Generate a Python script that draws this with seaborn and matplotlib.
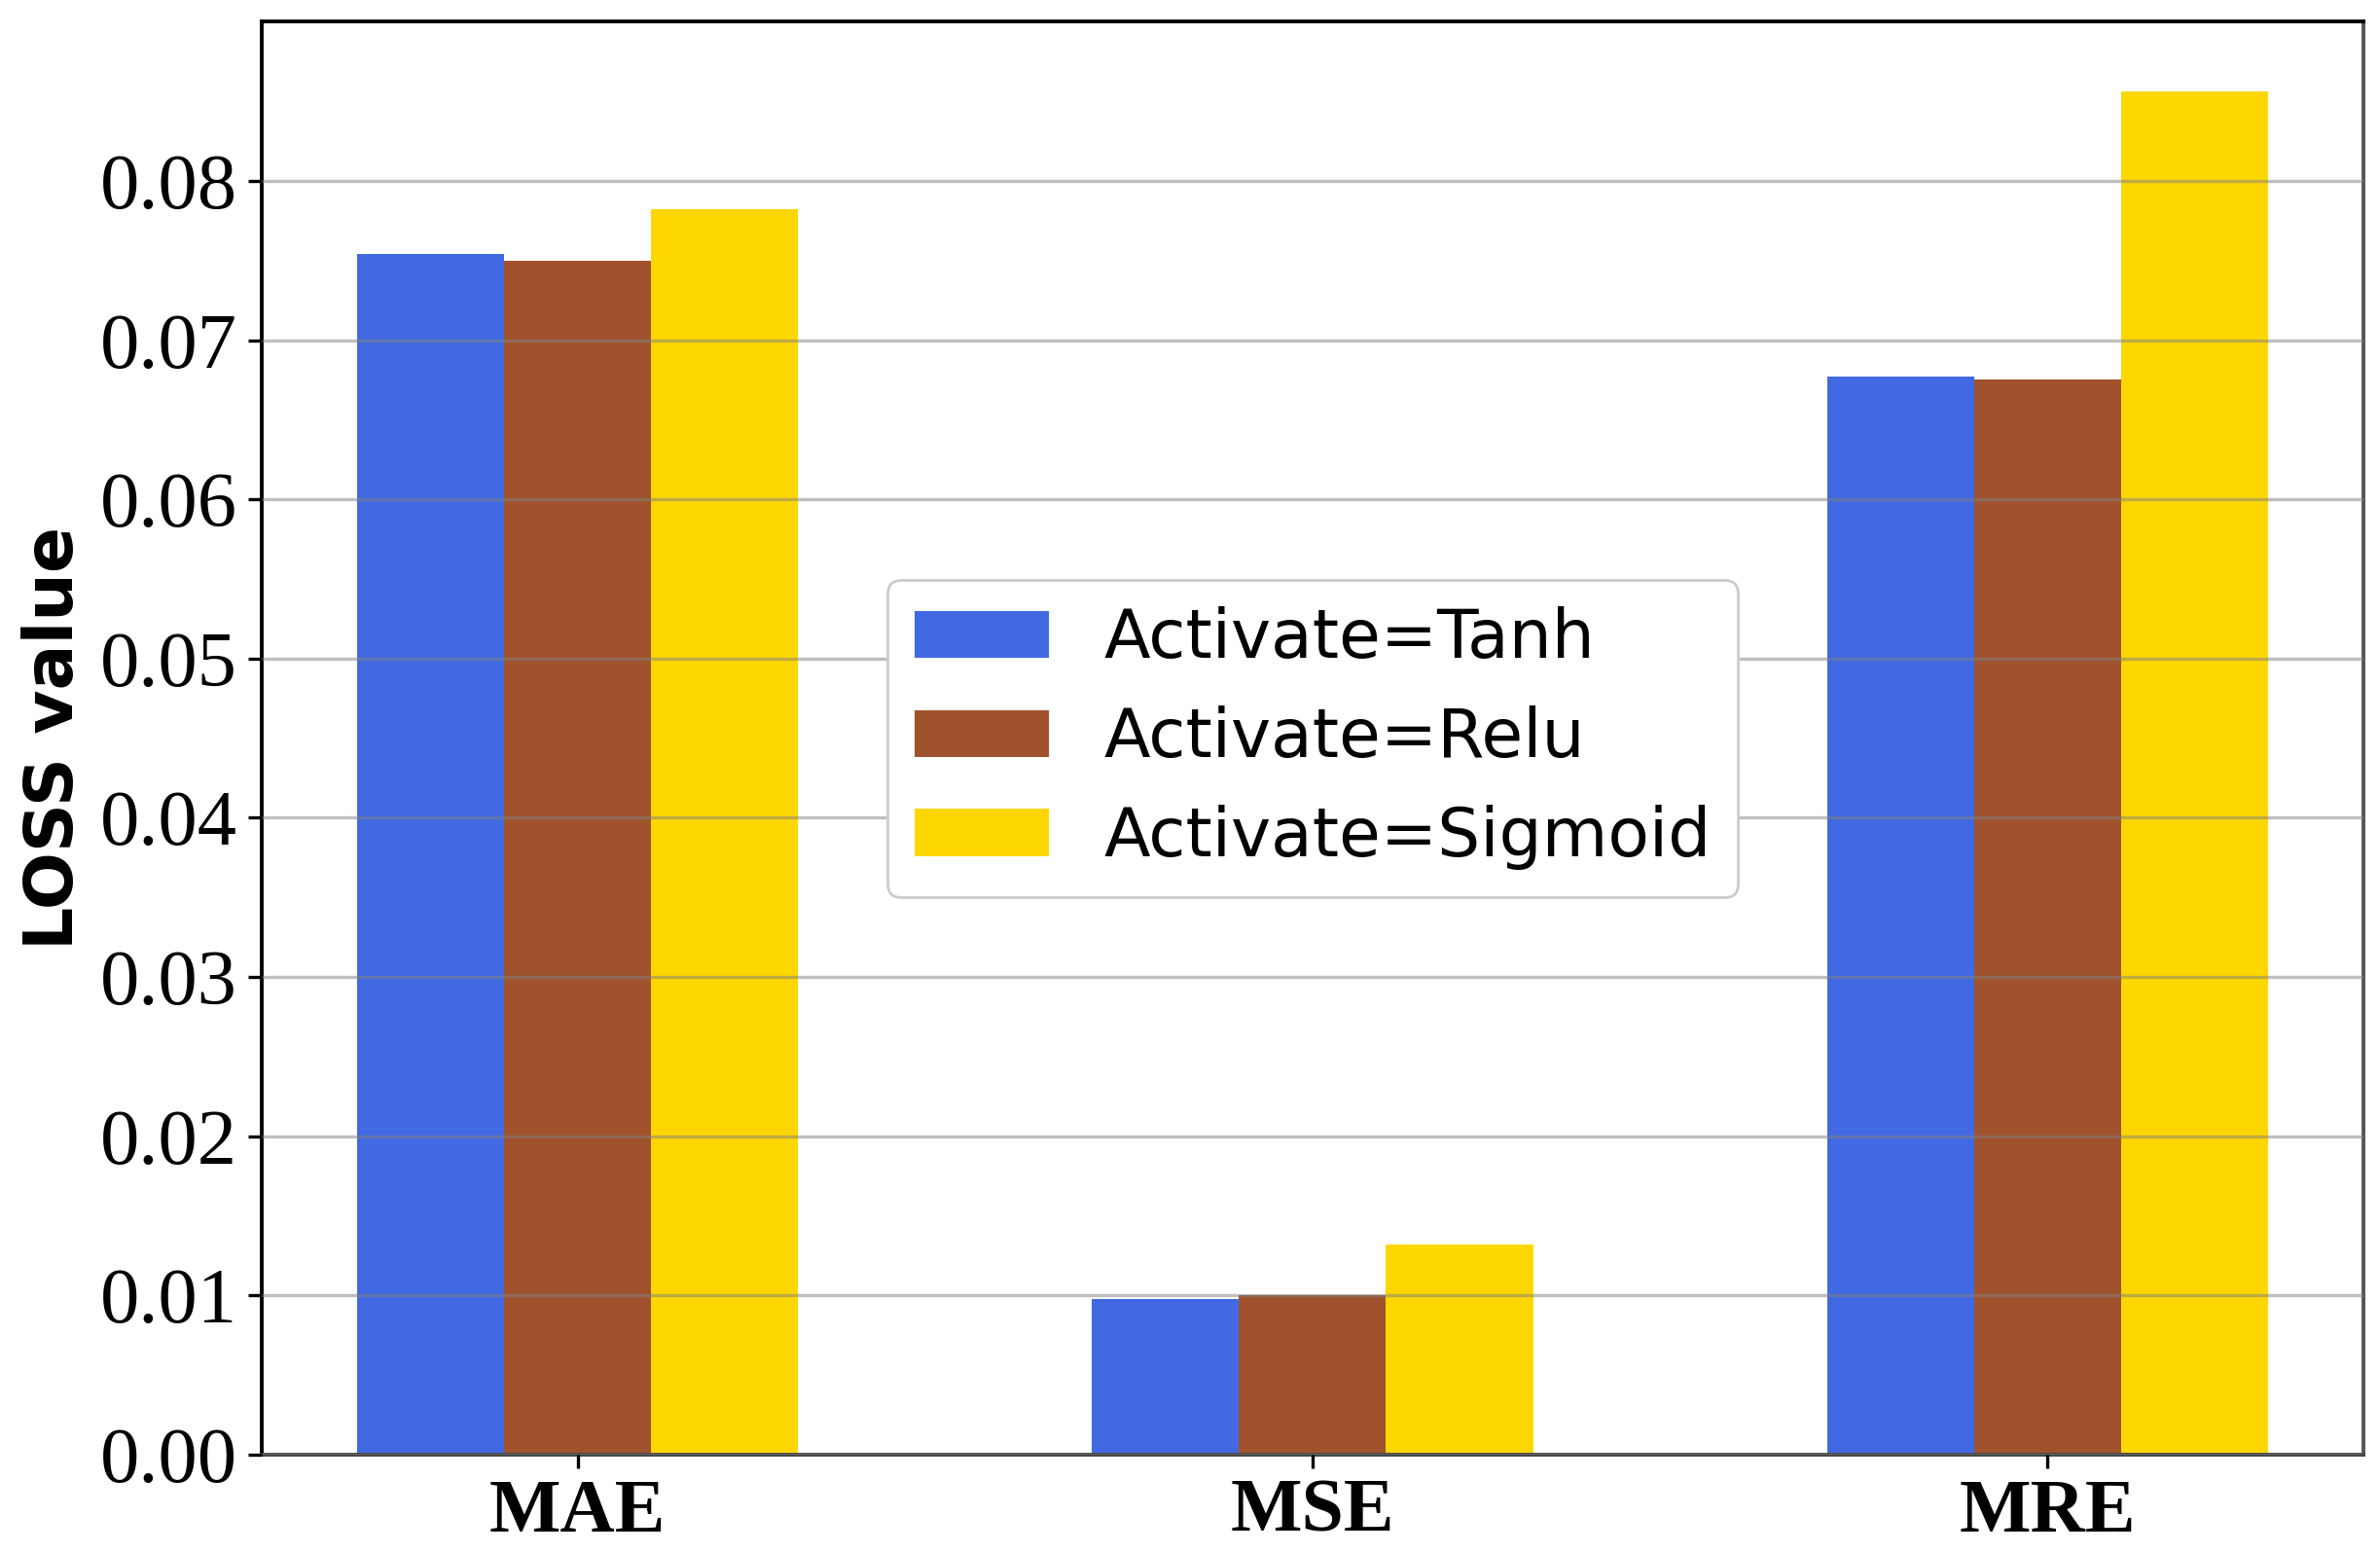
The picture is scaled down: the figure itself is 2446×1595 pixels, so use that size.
import matplotlib
matplotlib.use("Agg")
import matplotlib.pyplot as plt
import seaborn as sns
import pandas as pd

metrics = ["MAE", "MSE", "MRE"]
activations = ["Activate=Tanh", "Activate=Relu", "Activate=Sigmoid"]
tanh_vals = [0.0754, 0.0098, 0.0677]
relu_vals = [0.0750, 0.0100, 0.0675]
sigmoid_vals = [0.0782, 0.0132, 0.0856]
colors = ["#4169E1", "#A0522D", "#FFD700"]
yticks = [0.00, 0.01, 0.02, 0.03, 0.04, 0.05, 0.06, 0.07, 0.08]

rows = []
for act, vals in zip(activations, [tanh_vals, relu_vals, sigmoid_vals]):
    for m, v in zip(metrics, vals):
        rows.append({"metric": m, "activation": act, "value": v})
df = pd.DataFrame(rows)

sns.set_theme(style="white")
plt.rcParams['font.family'] = ['DejaVu Sans']
plt.rcParams['text.color'] = 'black'
plt.rcParams['axes.labelcolor'] = 'black'
plt.rcParams['xtick.color'] = 'black'
plt.rcParams['ytick.color'] = 'black'

fig = plt.figure(figsize=(12.23, 7.975), dpi=200)
ax = fig.add_axes([0.110, 0.0627, 0.883, 0.9233])

sns.barplot(data=df, x="metric", y="value", hue="activation", order=metrics,
            hue_order=activations, palette=colors, width=0.6, saturation=1,
            linewidth=0, edgecolor='none', ax=ax, zorder=1)

ax.set_xlim(-0.43, 2.43)
ax.set_ylim(0, 0.09)
ax.set_yticks(yticks)
ax.set_yticklabels([f"{v:.2f}" for v in yticks],
                   fontdict={'family': 'Liberation Serif', 'size': 29})
ax.set_xticks(range(len(metrics)))
ax.set_xticklabels(metrics, fontdict={'family': 'Liberation Serif', 'size': 28,
                                      'weight': 'bold'})
ax.grid(axis='y', color='gray', alpha=0.5, linewidth=1.2, zorder=2)
ax.set_axisbelow(False)

ax.tick_params(axis='both', which='major', direction='out', length=5, width=1.2,
               color='black', left=True, bottom=True, pad=4)
ax.set_xlabel("")
ax.set_ylabel("LOSS value", fontsize=25, fontweight='bold', family='DejaVu Sans',
              color='black', labelpad=5)

for s in ax.spines.values():
    s.set_visible(True)
    s.set_color('black')
    s.set_linewidth(1.4)
ax.spines['right'].set_color('#555555')
ax.spines['bottom'].set_color('#444444')

leg = ax.legend(loc='center', fontsize=25, frameon=True, framealpha=1.0,
                edgecolor='#cccccc', fancybox=True)
for t in leg.get_texts():
    t.set_color('black')
leg.set_zorder(5)

fig.savefig("out.png", dpi=200)
